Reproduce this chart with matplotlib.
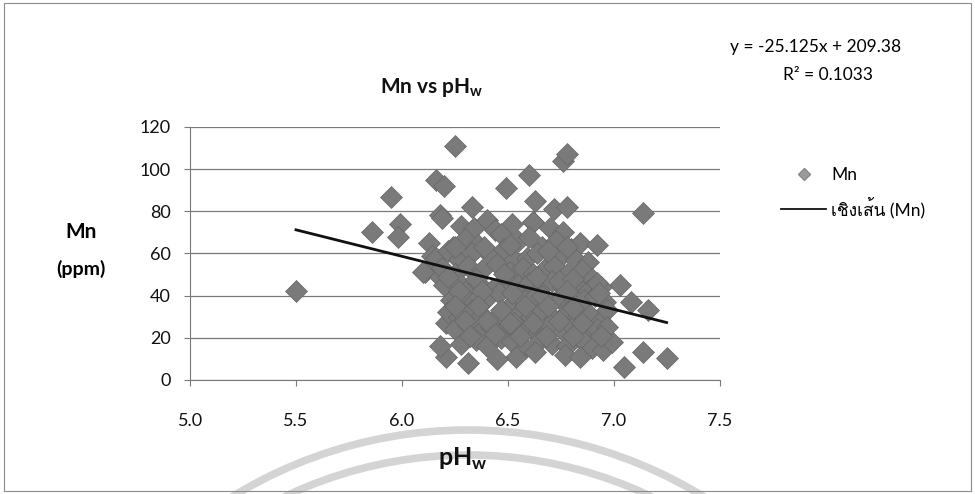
import numpy as np
import matplotlib
matplotlib.use("Agg")
import matplotlib.pyplot as plt
from matplotlib import font_manager
from matplotlib.ft2font import FT2Font
from matplotlib.lines import Line2D
from matplotlib.patches import Arc, Rectangle

# soil pH (water) and Mn (ppm), grouped roughly by band
ph_sparse = [5.50, 5.86, 5.95, 5.99, 5.98, 6.25, 6.16, 6.20, 6.18, 6.13, 6.14, 6.24, 6.11, 6.18,
             6.24, 6.49, 6.60, 6.76, 6.78, 6.63, 6.72, 6.78, 6.33, 6.19, 6.62, 7.14, 7.03, 7.08,
             7.16, 6.23, 6.21]
mn_sparse = [42, 70, 87, 74, 68, 111, 95, 92, 78, 65, 59, 63, 51, 49,
             44, 91, 97, 104, 107, 85, 81, 82, 82, 77, 75, 79, 45, 37,
             33, 32, 27]

ph_upper = [6.28, 6.34, 6.40, 6.44, 6.52, 6.62, 6.70, 6.76,
            6.30, 6.36, 6.47, 6.55, 6.60, 6.66, 6.73, 6.80, 6.84, 6.92,
            6.16, 6.22, 6.27, 6.33, 6.42, 6.48, 6.53, 6.59, 6.64, 6.70, 6.75, 6.82, 6.88,
            6.10, 6.19, 6.25, 6.31, 6.38, 6.45, 6.51, 6.57, 6.62, 6.67, 6.72, 6.78, 6.85, 6.90]
mn_upper = [73, 72, 76, 71, 74, 75, 72, 70,
            67, 64, 69, 66, 68, 63, 66, 62, 65, 64,
            58, 61, 57, 60, 59, 62, 57, 58, 60, 55, 59, 57, 56,
            51, 53, 50, 54, 52, 55, 51, 53, 50, 52, 54, 50, 52, 48]

ph_middle = [6.20, 6.26, 6.32, 6.36, 6.43, 6.49, 6.55, 6.60, 6.65, 6.71, 6.76, 6.82, 6.88, 6.94,
             6.23, 6.29, 6.34, 6.40, 6.46, 6.52, 6.58, 6.63, 6.69, 6.74, 6.80, 6.86, 6.91, 6.96,
             6.22, 6.27, 6.33, 6.38, 6.44, 6.50, 6.55, 6.61, 6.66, 6.72, 6.78, 6.83, 6.89, 6.94]
mn_middle = [45, 47, 44, 46, 43, 48, 45, 46, 43, 47, 44, 45, 42, 44,
             38, 40, 37, 39, 41, 36, 38, 40, 37, 39, 36, 38, 40, 37,
             32, 30, 33, 31, 29, 34, 31, 30, 33, 29, 32, 30, 31, 28]

ph_lower = [6.25, 6.31, 6.36, 6.42, 6.48, 6.53, 6.59, 6.64, 6.70, 6.76, 6.81, 6.87, 6.92,
            6.28, 6.35, 6.40, 6.47, 6.52, 6.58, 6.65, 6.71, 6.78, 6.86, 6.90,
            6.21, 6.31, 6.54, 6.63, 6.77, 6.84, 6.95, 6.99, 7.05, 7.14, 7.25, 6.18, 6.45]
mn_lower = [24, 26, 22, 25, 23, 27, 24, 22, 26, 23, 25, 22, 24,
            17, 19, 16, 20, 18, 15, 19, 17, 16, 18, 15,
            11, 8, 11, 13, 12, 11, 14, 18, 6, 13, 10.5, 16, 10]

ph_between = [6.25, 6.39, 6.51, 6.69, 6.78,
              6.22, 6.35, 6.48, 6.64, 6.74, 6.81, 6.92,
              6.27, 6.38, 6.52, 6.66, 6.78, 6.93,
              6.25, 6.36, 6.47, 6.58, 6.69, 6.81, 6.97,
              6.30, 6.40, 6.51, 6.62, 6.74, 6.85, 6.97,
              6.32, 6.44, 6.56, 6.68, 6.81, 6.94]
mn_between = [63, 63, 64, 61, 63,
              49, 48, 50, 49, 47, 48, 46,
              42, 42, 41, 40, 42, 41,
              35, 35, 33, 35, 35, 34, 33,
              28, 28, 27, 27, 28, 27, 25,
              21, 22, 21, 21, 21, 21]

# Excel linear trendline reported on the chart
slope = -25.125
intercept = 209.38
r_squared = 0.1033

x_ticks = [5.0, 5.5, 6.0, 6.5, 7.0, 7.5]
y_ticks = [0, 20, 40, 60, 80, 100, 120]


def find_thai_font():
    for f in font_manager.fontManager.ttflist:
        try:
            if 0x0E40 in FT2Font(f.fname).get_charmap():
                return f.name
        except Exception:
            pass
    return None


thai = find_thai_font()
families = ["Lato", "DejaVu Sans"] + ([thai] if thai else [])
plt.rcParams["font.family"] = families
plt.rcParams["mathtext.fontset"] = "custom"
plt.rcParams["mathtext.rm"] = "Lato"
plt.rcParams["mathtext.bf"] = "Lato:bold"

ph = np.array(ph_sparse + ph_upper + ph_middle + ph_lower + ph_between)
mn = np.array(mn_sparse + mn_upper + mn_middle + mn_lower + mn_between)

fig = plt.figure(figsize=(9.75, 4.94), dpi=100)
ax = fig.add_axes([0.195, 0.231, 0.543, 0.512])

ax.scatter(ph, mn, marker="D", s=125, facecolor="#7a7a7a", edgecolor="#666666",
           linewidths=0.5, zorder=3)

xfit = np.array([ph.min(), ph.max()])
ax.plot(xfit, slope * xfit + intercept, color="#111111", lw=2, zorder=4)

ax.set_xlim(5.0, 7.5)
ax.set_ylim(0, 120)
ax.set_xticks(x_ticks)
ax.set_xticklabels([f"{t:.1f}" for t in x_ticks])
ax.set_yticks(y_ticks)
ax.grid(axis="y", color="#7a7a7a", lw=0.9)
ax.set_axisbelow(True)
for s in ["top", "right"]:
    ax.spines[s].set_visible(False)
ax.spines["left"].set_color("#7a7a7a")
ax.spines["bottom"].set_color("#7a7a7a")
ax.tick_params(axis="both", colors="#7a7a7a", labelcolor="#111111", labelsize=13, length=4)
ax.tick_params(axis="x", pad=20)
ax.tick_params(axis="y", pad=10)

fig.text(0.443, 0.822, r"Mn vs pH$_\mathbf{w}$", ha="center", va="center",
         fontsize=15, fontweight="bold", color="#111111")
fig.text(0.475, 0.072, r"pH$_\mathbf{w}$", ha="center", va="center",
         fontsize=18, fontweight="bold", color="#111111")
fig.text(0.083, 0.530, "Mn", ha="center", va="center", fontsize=15, fontweight="bold")
fig.text(0.083, 0.455, "(ppm)", ha="center", va="center", fontsize=14, fontweight="bold")

fig.text(0.836, 0.905, f"y = {slope}x + {intercept}", ha="center", va="center", fontsize=12.5)
fig.text(0.849, 0.848, f"R\u00b2 = {r_squared}", ha="center", va="center", fontsize=12.5)

handles = [
    Line2D([], [], marker="D", ls="none", markersize=6, markerfacecolor="#9a9a9a",
           markeredgecolor="#8a8a8a", label="Mn"),
    Line2D([], [], color="#111111", lw=1.3, label="เชิงเส้น (Mn)"),
]
fig.legend(handles=handles, loc="center left", bbox_to_anchor=(0.785, 0.61),
           frameon=False, fontsize=12.5, handlelength=2.6, handletextpad=0.3,
           labelspacing=0.8)

# faint watermark rings
for r in (450, 425):
    fig.add_artist(Arc((468 / 975, -386 / 494), 2 * r / 975, 2 * r / 494, theta1=20, theta2=160,
                       transform=fig.transFigure, color="#d4d4d4", lw=5.5, zorder=0))

fig.add_artist(Rectangle((0.004, 0.006), 0.992, 0.988, transform=fig.transFigure,
                         fill=False, edgecolor="#8a8a8a", lw=0.8))

fig.savefig("out.png", dpi=100)
